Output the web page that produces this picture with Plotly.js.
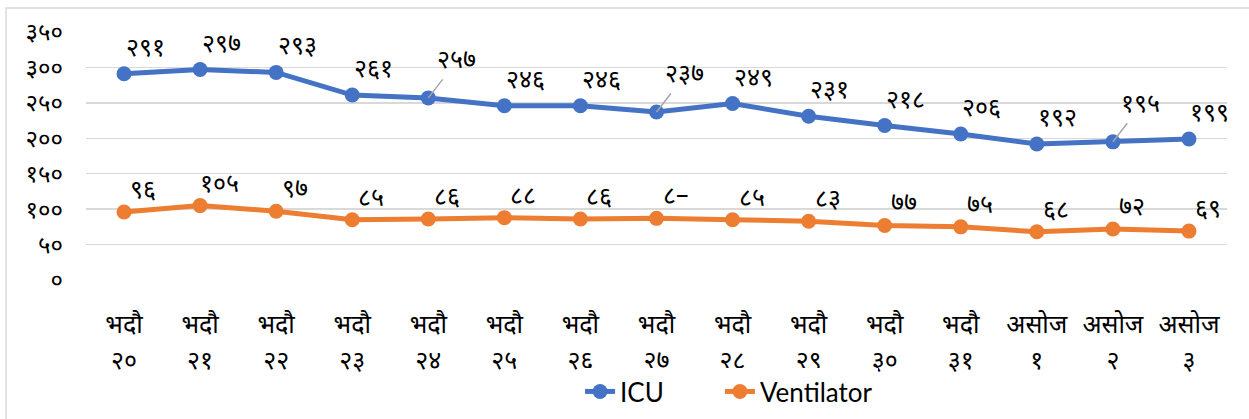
<!DOCTYPE html>
<html>
<head>
<meta charset="utf-8">
<script src="https://cdn.plot.ly/plotly-3.0.1.min.js"></script>
<style>html,body{margin:0;padding:0;background:#fff;}#chart{width:1249px;height:419px;}</style>
</head>
<body>
<div id="chart"></div>
<script>
// ---- data ----
const monthLabels = ["भदौ","भदौ","भदौ","भदौ","भदौ","भदौ","भदौ","भदौ","भदौ","भदौ","भदौ","भदौ","असोज","असोज","असोज"];
const dayLabels = ["२०","२१","२२","२३","२४","२५","२६","२७","२८","२९","३०","३१","१","२","३"];
const icuValues = [291,297,293,261,257,246,246,237,249,231,218,206,192,195,199];
const ventValues = [96,105,97,85,86,88,86,87,85,83,77,75,68,72,69];
const icuLabels = ["२९१","२९७","२९३","२६१","२५७","२४६","२४६","२३७","२४९","२३१","२१८","२०६","१९२","१९५","१९९"];
const ventLabels = ["९६","१०५","९७","८५","८६","८८","८६","८–","८५","८३","७७","७५","६८","७२","६९"];
const yTickVals = [0,50,100,150,200,250,300,350];
const yTickText = ["०","५०","१००","१५०","२००","२५०","३००","३५०"];
const leaderIdx = [4,7,13]; // ICU labels drawn with leader lines

const devFont = "'Noto Sans Devanagari', 'Noto Sans', 'Lohit Devanagari', sans-serif";
const idx = monthLabels.map((_, i) => i);
const ICU_C = "#4472C4", VENT_C = "#ED7D31";

const traces = [
  {x: idx, y: icuValues, name: "ICU", type: "scatter", mode: "lines+markers", legend: "legend",
   line: {color: ICU_C, width: 5}, marker: {color: ICU_C, size: 15}},
  {x: idx, y: ventValues, name: "Ventilator", type: "scatter", mode: "lines+markers", legend: "legend2",
   line: {color: VENT_C, width: 5}, marker: {color: VENT_C, size: 15}},
  // second x-axis line (day numbers)
  {x: idx, y: icuValues, xaxis: "x2", yaxis: "y", mode: "none", showlegend: false, hoverinfo: "skip"}
];

const labFont = {family: devFont, size: 25, color: "#000"};
const annotations = [];
icuValues.forEach((v, i) => {
  if (leaderIdx.includes(i)) {
    annotations.push({x: i, y: v, xref: "x", yref: "y", text: icuLabels[i], showarrow: true,
      arrowhead: 0, arrowwidth: 1.5, arrowcolor: "#a6a6a6", ax: 28, ay: -36, standoff: 0,
      font: labFont});
  } else {
    annotations.push({x: i, y: v, xref: "x", yref: "y", text: icuLabels[i], showarrow: false,
      xshift: 21, yshift: 24, font: labFont});
  }
});
ventValues.forEach((v, i) => {
  annotations.push({x: i, y: v, xref: "x", yref: "y", text: ventLabels[i], showarrow: false,
    xshift: 19, yshift: 20, font: labFont});
});

const legFont = {family: "Lato, 'Liberation Sans', sans-serif", size: 26, color: "#000"};
const layout = {
  width: 1249, height: 419,
  margin: {l: 86, r: 22, t: 32, b: 139, autoexpand: false},
  paper_bgcolor: "#fff", plot_bgcolor: "#fff",
  showlegend: true,
  legend: {orientation: "h", x: 0.433, xanchor: "left", y: -0.355, yanchor: "top", font: legFont},
  legend2: {orientation: "h", x: 0.5556, xanchor: "left", y: -0.355, yanchor: "top", font: legFont},
  xaxis: {type: "linear", range: [-0.5, 14.5], tickmode: "array", tickvals: idx, ticktext: monthLabels,
    showgrid: false, zeroline: false, showline: false, ticks: "", ticklabelstandoff: 27, automargin: false,
    tickfont: {family: devFont, size: 25, color: "#000"}, fixedrange: true},
  xaxis2: {type: "linear", overlaying: "x", anchor: "y", side: "bottom", range: [-0.5, 14.5],
    tickmode: "array", tickvals: idx, ticktext: dayLabels, automargin: false,
    showgrid: false, zeroline: false, showline: false, ticks: "", ticklabelstandoff: 63,
    tickfont: {family: devFont, size: 25, color: "#000"}},
  yaxis: {range: [0, 350], tickmode: "array", tickvals: yTickVals, ticktext: yTickText, automargin: false,
    showgrid: true, gridcolor: "#d9d9d9", gridwidth: 1.5, zeroline: false, showline: false,
    ticks: "", ticklabelstandoff: 22, tickfont: {family: devFont, size: 24, color: "#000"}},
  annotations: annotations,
  shapes: [{type: "rect", xref: "paper", yref: "paper", x0: -0.0701, x1: 1.1, y0: -0.6, y1: 1.0968,
    line: {color: "#d9d9d9", width: 1.5}, fillcolor: "rgba(0,0,0,0)", layer: "below"}]
};

Plotly.newPlot("chart", traces, layout, {displayModeBar: false, staticPlot: true});
</script>
</body>
</html>
